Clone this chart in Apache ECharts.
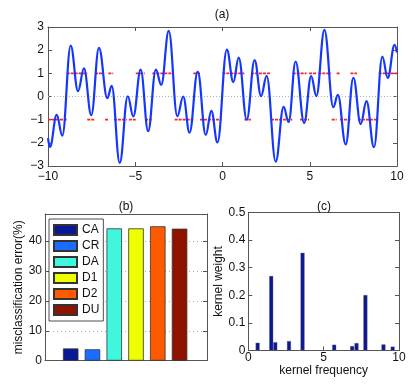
<!DOCTYPE html>
<html>
<head>
<meta charset="utf-8">
<script src="https://cdn.jsdelivr.net/npm/echarts@6/dist/echarts.min.js"></script>
<style>
  html, body { margin: 0; background: #fff; }
  #chart { width: 415px; height: 384px; }
</style>
</head>
<body>
<div id="chart"></div>
<script>
const waveX = [-10, -9.89, -9.5, -9.18, -8.7, -8.28, -7.94, -7.52, -7.08, -6.6, -6.35, -5.89, -5.43, -5.11,
  -4.69, -4.26, -3.82, -3.51, -3.08, -2.59, -2.25, -1.89, -1.42, -0.96, -0.64, -0.29, 0.25, 0.62, 0.93,
  1.39, 1.84, 2.21, 2.53, 3.05, 3.5, 3.79, 4.19, 4.68, 5.08, 5.38, 5.84, 6.35, 6.61, 7.06, 7.5, 7.92,
  8.25, 8.68, 9.16, 9.47, 9.86, 10]
const waveY = [-1.8, -2.18, -0.79, -1.69, 2.2, 0.23, 1.21, -0.8, 2.1, -0.07, 0.46, -2.87, 0.01, -0.86,
  1.16, -1.5, 1.16, 0.5, 2.83, -0.85, 0.0, -1.56, 1.07, -1.66, -0.62, -1.98, 2.02, 0.62, 1.68,
  -1.0, 1.57, 0.02, 0.89, -2.81, -0.45, -1.1, 1.51, -1.14, 0.88, 0.02, 2.88, -0.46, 0.07, -2.07, 0.81, -1.19,
  -0.2, -2.19, 1.72, 0.8, 2.23, 1.9]

// (a) red label runs: [from, to] at +1 and at -1
const labelHigh = [[-8.93, -7.75], [-7.31, -6.79], [-6.54, -6.26], [-5.43, -5.39], [-4.97, -4.46],
  [-4.02, -2.8], [-1.67, -1.29], [-0.01, 1.25], [1.63, 2.72], [4.02, 4.82], [4.96, 5.36], [5.49, 6.22],
  [6.54, 6.73], [7.33, 7.71], [8.95, 10]]
const labelLow = [[-10, -8.93], [-7.75, -7.31], [-6.73, -6.54], [-6.22, -5.49], [-5.36, -4.97],
  [-4.44, -4.06], [-2.74, -1.67], [-1.29, -0.05], [1.25, 1.63], [2.78, 4.0], [4.44, 4.96], [5.34, 5.38],
  [6.26, 6.54], [6.73, 7.33], [7.76, 8.92]]
const zeroLine = [[-10, 0], [10, 0]]

// (b) misclassification error (%)
const methods = ['CA', 'CR', 'DA', 'D1', 'D2', 'DU']
const methodPos = [1, 2, 3, 4, 5, 6]
const errors = [4.1, 3.8, 44.2, 44.2, 44.9, 44.1]
const methodColors = ['#0b1896', '#1a6dff', '#3ff7dc', '#eeff00', '#ff5a00', '#8e1400']

// (c) kernel weights
const kernelFreq = [0.62, 1.52, 1.79, 2.7, 3.6, 5.7, 6.89, 7.18, 7.77, 8.97, 9.58]
const kernelWeight = [0.028, 0.27, 0.03, 0.034, 0.354, 0.021, 0.016, 0.027, 0.201, 0.022, 0.014]

const font = 'Liberation Sans, Arial, sans-serif'
const axisColor = '#555'
const minus = v => (v < 0 ? '\u2212' + (-v) : String(v))

function runs(list, level) {
  const out = []
  list.forEach(([a, b]) => { out.push([a, level], [b, level], null) })
  return out
}

function boxAxis(grid, pos, extra) {
  return Object.assign({
    type: 'value',
    gridIndex: grid,
    position: pos,
    axisLine: { show: true, onZero: false, lineStyle: { color: axisColor, width: 1 } },
    axisTick: { show: true, inside: true, length: 4, lineStyle: { color: axisColor } },
    axisLabel: { show: false },
    splitLine: { show: false },
  }, extra)
}

const labelStyle = { color: '#111', fontSize: 12, fontFamily: font }

const chart = echarts.init(document.getElementById('chart'))
chart.setOption({
  animation: false,
  backgroundColor: '#fff',
  title: [
    { text: '(a)', left: 222, top: 9, textAlign: 'center', padding: 0, textStyle: { ...labelStyle, fontWeight: 'normal' } },
    { text: '(b)', left: 126, top: 201, textAlign: 'center', padding: 0, textStyle: { ...labelStyle, fontWeight: 'normal' } },
    { text: '(c)', left: 324, top: 201, textAlign: 'center', padding: 0, textStyle: { ...labelStyle, fontWeight: 'normal' } },
  ],
  legend: {
    data: methods,
    orient: 'vertical',
    left: 49,
    top: 219,
    padding: [5, 4, 5, 4],
    itemWidth: 23,
    itemHeight: 10,
    itemGap: 4,
    icon: 'rect',
    backgroundColor: '#fff',
    borderColor: '#222',
    borderWidth: 0.8,
    textStyle: { ...labelStyle, lineHeight: 12 },
  },
  grid: [
    { left: 48, top: 27, width: 349, height: 139 },
    { left: 45, top: 214, width: 162, height: 146.7 },
    { left: 248.3, top: 212.5, width: 150.7, height: 138 },
  ],
  xAxis: [
    boxAxis(0, 'bottom', { min: -10, max: 10, interval: 5,
      axisLabel: { show: true, margin: 5, formatter: minus, ...labelStyle } }),
    boxAxis(0, 'top', { min: -10, max: 10, interval: 5 }),
    boxAxis(1, 'bottom', { min: -0.18, max: 7.26, axisTick: { show: false } }),
    boxAxis(1, 'top', { min: -0.18, max: 7.26, axisTick: { show: false } }),
    boxAxis(2, 'bottom', { min: 0, max: 10, interval: 5,
      axisLabel: { show: true, margin: 1, ...labelStyle },
      name: 'kernel frequency', nameLocation: 'middle', nameGap: 10, nameTextStyle: labelStyle }),
    boxAxis(2, 'top', { min: 0, max: 10, interval: 5, axisTick: { show: false } }),
  ],
  yAxis: [
    boxAxis(0, 'left', { min: -3, max: 3, interval: 1,
      axisLabel: { show: true, margin: 4, formatter: minus, ...labelStyle } }),
    boxAxis(0, 'right', { min: -3, max: 3, interval: 1 }),
    boxAxis(1, 'left', { min: 0, max: 49, interval: 10,
      axisLabel: { show: true, margin: 3, showMaxLabel: false, ...labelStyle },
      splitLine: { show: true, lineStyle: { color: '#aaa', type: [1, 3], width: 1 } },
      name: 'misclassification error(%)', nameLocation: 'middle', nameGap: 17, nameTextStyle: labelStyle }),
    boxAxis(1, 'right', { min: 0, max: 49, interval: 10 }),
    boxAxis(2, 'left', { min: 0, max: 0.5, interval: 0.1,
      axisLabel: { show: true, margin: 3, ...labelStyle },
      name: 'kernel weight', nameLocation: 'middle', nameGap: 21, nameTextStyle: labelStyle }),
    boxAxis(2, 'right', { min: 0, max: 0.5, interval: 0.1 }),
  ],
  series: [
    {
      type: 'line', xAxisIndex: 0, yAxisIndex: 0, data: zeroLine, showSymbol: false, silent: true,
      lineStyle: { color: '#9fb4cc', width: 1, type: [1, 2] }, z: 1,
    },
    {
      type: 'line', xAxisIndex: 0, yAxisIndex: 0, data: runs(labelHigh, 1).concat(runs(labelLow, -1)),
      showSymbol: false, connectNulls: false,
      lineStyle: { color: '#ff2020', width: 1.6, type: [3, 1] }, z: 2,
    },
    {
      type: 'line', xAxisIndex: 0, yAxisIndex: 0, data: waveX.map((x, i) => [x, waveY[i]]),
      showSymbol: false, smooth: 0.4, smoothMonotone: 'x',
      lineStyle: { color: '#1536ff', width: 2.2 }, z: 3,
    },
    ...methods.map((m, i) => ({
      name: m, type: 'bar', xAxisIndex: 2, yAxisIndex: 2,
      data: [[methodPos[i], errors[i]]],
      barWidth: 15.5, barGap: '-100%',
      itemStyle: { color: methodColors[i], borderColor: '#333', borderWidth: 0.8 },
    })),
    {
      type: 'bar', xAxisIndex: 4, yAxisIndex: 4,
      data: kernelFreq.map((f, i) => [f, kernelWeight[i]]),
      barWidth: 4,
      itemStyle: { color: '#0c1890', borderColor: '#6a6a90', borderWidth: 0.4 },
    },
  ],
})
</script>
</body>
</html>
